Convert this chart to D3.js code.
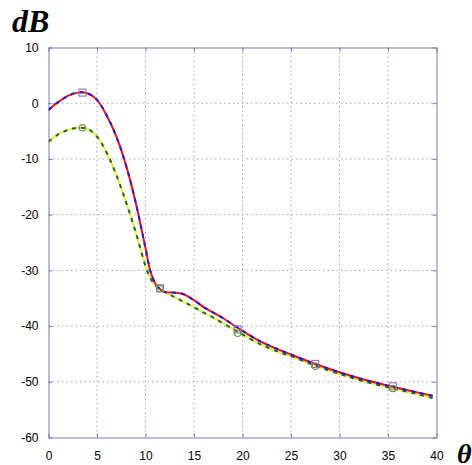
<!DOCTYPE html>
<html><head><meta charset="utf-8">
<script src="https://cdn.jsdelivr.net/npm/d3@7"></script>
<style>html,body{margin:0;padding:0;background:#fff;overflow:hidden;}svg{display:block;}</style>
</head><body>
<svg id="c" width="472" height="465"></svg>
<script>
const xTicks = [0,5,10,15,20,25,30,35,40];
const yTicks = [10,0,-10,-20,-30,-40,-50,-60];
const redX = [0,1,2,3,4,5,6,7,8,9,10,10.5,11,11.5,12,13,13.8,14.5,15.3,16,17,18,19.5,22,24,25,27.5,30,32.5,35.5,38,39.6];
const redY = [-1.2,0.2,1.3,1.9,1.8,0.6,-2.2,-6.0,-11.2,-17.9,-26.0,-30.1,-32.3,-33.4,-33.9,-34.0,-34.2,-34.8,-35.7,-36.6,-37.6,-38.6,-40.3,-42.9,-44.4,-45.1,-46.8,-48.3,-49.6,-50.9,-51.9,-52.5];
const grnX = [0,1,2,3,4,5,6,7,8,9,10,10.5,11,11.5,12,13,14,15,16,17,18,19.5,22,24,25,27.5,30,32.5,35.5,38,39.6];
const grnY = [-6.9,-5.6,-4.8,-4.4,-4.6,-6.0,-8.9,-12.9,-17.8,-23.2,-29.2,-31.4,-32.7,-33.4,-33.9,-34.8,-35.7,-36.6,-37.6,-38.5,-39.5,-41.0,-43.4,-44.8,-45.4,-47.1,-48.6,-49.9,-51.2,-52.2,-52.9];
const markX = [3.5,11.5,19.5,27.5,35.5];
const sqY = [1.9,-33.2,-40.6,-46.8,-50.8];
const ciY = [-4.4,-33.3,-41.3,-47.2,-51.2];

const svg = d3.select('#c');
const L=48.5,R=436.5,T=47.5,B=437.5;
const x = d3.scaleLinear().domain([0,40]).range([L,R]);
const y = d3.scaleLinear().domain([-60,10]).range([B,T]);
const gridC = '#a0a0c8', frameC = '#7a7ab8';

// grid
svg.append('g').selectAll('line').data(xTicks.slice(1,-1)).join('line')
  .attr('x1',d=>x(d)).attr('x2',d=>x(d)).attr('y1',T).attr('y2',B)
  .attr('stroke',gridC).attr('stroke-width',1).attr('stroke-dasharray','1.5,3');
svg.append('g').selectAll('line').data(yTicks.slice(1,-1)).join('line')
  .attr('y1',d=>y(d)).attr('y2',d=>y(d)).attr('x1',L).attr('x2',R)
  .attr('stroke',gridC).attr('stroke-width',1).attr('stroke-dasharray','1.5,3');

// axes with inner ticks
const fs = '12px';
const ax = svg.append('g').attr('transform',`translate(0,${B})`)
  .call(d3.axisBottom(x).tickValues(xTicks).tickSizeInner(-4).tickSizeOuter(0).tickPadding(14));
const ay = svg.append('g').attr('transform',`translate(${L},0)`)
  .call(d3.axisLeft(y).tickValues(yTicks).tickSizeInner(-4).tickSizeOuter(0).tickPadding(10));
const axT = svg.append('g').attr('transform',`translate(0,${T})`)
  .call(d3.axisTop(x).tickValues(xTicks).tickSizeInner(-4).tickSizeOuter(0).tickFormat(''));
const ayR = svg.append('g').attr('transform',`translate(${R},0)`)
  .call(d3.axisRight(y).tickValues(yTicks).tickSizeInner(-4).tickSizeOuter(0).tickFormat(''));
[ax,ay,axT,ayR].forEach(g=>{
  g.select('.domain').attr('stroke',frameC);
  g.selectAll('.tick line').attr('stroke',frameC);
  g.selectAll('text').attr('font-family','Liberation Sans, Arial, sans-serif').attr('font-size',fs).attr('fill','#000');
});
ay.selectAll('text').text(d=>d<0?'-'+Math.abs(d):d);

// curves
const line = d3.line().x(d=>x(d[0])).y(d=>y(d[1])).curve(d3.curveCatmullRom.alpha(0.5));
const red = redX.map((v,i)=>[v,redY[i]]);
const grn = grnX.map((v,i)=>[v,grnY[i]]);
svg.append('clipPath').attr('id','cp').append('rect').attr('x',L).attr('y',T).attr('width',R-L).attr('height',B-T);
const pg = svg.append('g').attr('clip-path','url(#cp)');
pg.append('path').attr('d',line(grn)).attr('fill','none').attr('stroke','#e6f040').attr('stroke-width',2);
pg.append('path').attr('d',line(grn)).attr('fill','none').attr('stroke','#1a6a2a').attr('stroke-width',2).attr('stroke-dasharray','4,5');
pg.append('path').attr('d',line(red)).attr('fill','none').attr('stroke','#ee1111').attr('stroke-width',2);
pg.append('path').attr('d',line(red)).attr('fill','none').attr('stroke','#1a1ae0').attr('stroke-width',2).attr('stroke-dasharray','4,5');

// markers
pg.append('g').selectAll('rect').data(markX.map((v,i)=>[v,sqY[i]])).join('rect')
  .attr('x',d=>x(d[0])-3.5).attr('y',d=>y(d[1])-3.5).attr('width',7).attr('height',7)
  .attr('fill','none').attr('stroke','#9a7ab8').attr('stroke-width',1.2);
pg.append('g').selectAll('circle').data(markX.map((v,i)=>[v,ciY[i]])).join('circle')
  .attr('cx',d=>x(d[0])).attr('cy',d=>y(d[1])).attr('r',3.2)
  .attr('fill','none').attr('stroke','#6a9a40').attr('stroke-width',1.2);

// labels
svg.append('text').attr('x',12).attr('y',32).text('dB')
  .attr('font-family','Liberation Serif, Times New Roman, serif').attr('font-weight','bold').attr('font-style','italic').attr('font-size','32px');
svg.append('text').attr('x',457).attr('y',463).text('θ')
  .attr('font-family','Liberation Serif, Times New Roman, serif').attr('font-weight','bold').attr('font-style','italic').attr('font-size','28px');
</script>
</body></html>
